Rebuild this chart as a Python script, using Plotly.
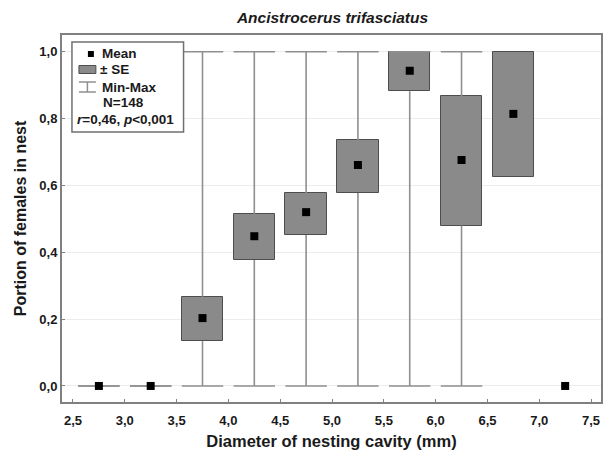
import plotly.graph_objects as go

# ---- data ----
diameters = [2.75, 3.25, 3.75, 4.25, 4.75, 5.25, 5.75, 6.25, 6.75, 7.25]
means     = [0.0, 0.0, 0.203, 0.448, 0.520, 0.661, 0.943, 0.676, 0.814, 0.0]
se_low    = [None, None, 0.134, 0.377, 0.452, 0.577, 0.882, 0.480, 0.626, None]
se_high   = [None, None, 0.267, 0.514, 0.577, 0.736, 1.000, 0.867, 1.000, None]
mins      = [0.0, 0.0, 0.0, 0.0, 0.0, 0.0, 0.0, 0.0, None, None]
maxs      = [0.0, 0.0, 1.0, 1.0, 1.0, 1.0, 1.0, 1.0, None, None]
x_ticks   = [2.5, 3.0, 3.5, 4.0, 4.5, 5.0, 5.5, 6.0, 6.5, 7.0, 7.5]
y_ticks   = [0.0, 0.2, 0.4, 0.6, 0.8, 1.0]

FONT = "Liberation Sans, Arial, sans-serif"
HALF = 0.2

fig = go.Figure()

# SE boxes
bx, bbase, bh = [], [], []
for d, lo, hi in zip(diameters, se_low, se_high):
    if lo is not None:
        bx.append(d); bbase.append(lo); bh.append(hi - lo)
fig.add_trace(go.Bar(x=bx, y=bh, base=bbase, width=2 * HALF,
                     marker=dict(color="#8a8a8a", line=dict(color="#4d4d4d", width=1)),
                     showlegend=False, hoverinfo="skip"))

# whiskers (min-max) split around the box, plus caps
wx, wy = [], []
for d, mn, mx, lo, hi in zip(diameters, mins, maxs, se_low, se_high):
    if mn is None:
        continue
    if lo is not None:
        wx += [d, d, None, d, d, None]
        wy += [mn, lo, None, hi, mx, None]
    else:
        wx += [d, d, None]
        wy += [mn, mx, None]
    wx += [d - HALF, d + HALF, None, d - HALF, d + HALF, None]
    wy += [mn, mn, None, mx, mx, None]
fig.add_trace(go.Scatter(x=wx, y=wy, mode="lines",
                         line=dict(color="#8f8f8f", width=1.6),
                         showlegend=False, hoverinfo="skip"))

# means
fig.add_trace(go.Scatter(x=diameters, y=means, mode="markers",
                         marker=dict(symbol="square", size=8, color="black"),
                         showlegend=False))

# ---- layout geometry (pixels) ----
W, H = 604, 455
L, R, T, B = 62, 603, 35, 402
pw, ph = R - L, B - T


def px(x):
    return (x - L) / pw


def py(y):
    return 1 - (y - T) / ph


shapes = []
# legend frame
shapes.append(dict(type="rect", xref="paper", yref="paper",
                   x0=px(72), x1=px(184), y0=py(132), y1=py(42),
                   line=dict(color="#707070", width=1.5), fillcolor="white", layer="above"))
# mean icon
shapes.append(dict(type="rect", xref="paper", yref="paper",
                   x0=px(88), x1=px(94), y0=py(57), y1=py(51),
                   line=dict(width=0), fillcolor="black", layer="above"))
# SE icon
shapes.append(dict(type="rect", xref="paper", yref="paper",
                   x0=px(79), x1=px(96), y0=py(73.5), y1=py(65.5),
                   line=dict(color="#4d4d4d", width=1), fillcolor="#8a8a8a", layer="above"))
# min-max icon
for seg in [((79, 82), (96, 82)), ((79, 92), (96, 92)), ((87.5, 82), (87.5, 92))]:
    shapes.append(dict(type="line", xref="paper", yref="paper",
                       x0=px(seg[0][0]), y0=py(seg[0][1]), x1=px(seg[1][0]), y1=py(seg[1][1]),
                       line=dict(color="#8f8f8f", width=1.5), layer="above"))

ann = []
lf = dict(family=FONT, size=13.5, color="#1a1a1a", weight="bold")
for text, xx, yy in [("Mean", 100, 53), ("± SE", 98, 70), ("Min-Max", 100, 87), ("N=148", 101, 103)]:
    ann.append(dict(text=text, xref="paper", yref="paper", x=px(xx), y=py(yy),
                    xanchor="left", yanchor="middle", showarrow=False, font=lf))
ann.append(dict(text="<i>r</i>=0,46, <i>p</i>&lt;0,001", xref="paper", yref="paper",
                x=px(75), y=py(119), xanchor="left", yanchor="middle", showarrow=False,
                font=dict(family=FONT, size=13.5, color="#1a1a1a", weight="bold")))

fig.update_layout(
    width=W, height=H,
    margin=dict(l=L, r=W - R, t=T, b=H - B, pad=0),
    paper_bgcolor="white", plot_bgcolor="white",
    separators=",.",
    bargap=0,
    title=dict(text="<i>Ancistrocerus trifasciatus</i>", x=(L + R) / 2 / W, xanchor="center",
               y=1 - 18 / H, yanchor="middle",
               font=dict(family=FONT, size=15.5, color="#1a1a1a", weight="bold")),
    shapes=shapes, annotations=ann,
    showlegend=False,
)
fig.update_xaxes(range=[2.394, 7.596], tickvals=x_ticks, tickformat=".1f",
                 showline=True, mirror=True, linecolor="#808080", linewidth=2,
                 ticks="inside", ticklen=3, tickcolor="#808080", showgrid=False, zeroline=False,
                 ticklabelstandoff=5,
                 tickfont=dict(family=FONT, size=13, color="#1a1a1a", weight="bold"),
                 title=dict(text="Diameter of nesting cavity (mm)", standoff=9,
                            font=dict(family=FONT, size=16.5, color="#1a1a1a", weight="bold")))
fig.update_yaxes(range=[-0.048, 1.05], tickvals=y_ticks, tickformat=".1f",
                 showline=True, mirror=True, linecolor="#808080", linewidth=2,
                 ticks="inside", ticklen=3, tickcolor="#808080",
                 showgrid=True, gridcolor="#ececec", gridwidth=1, zeroline=False,
                 tickfont=dict(family=FONT, size=13, color="#1a1a1a", weight="bold"),
                 title=dict(text="Portion of females in nest", standoff=9,
                            font=dict(family=FONT, size=16, color="#1a1a1a", weight="bold")))

fig.write_html("out.html")
